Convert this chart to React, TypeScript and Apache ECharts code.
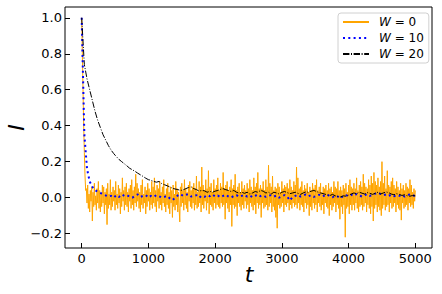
import React, { useEffect, useRef } from "react";
import * as echarts from "echarts";

const xTicks = [0, 1000, 2000, 3000, 4000, 5000];
const yTicks = [-0.2, 0, 0.2, 0.4, 0.6, 0.8, 1.0];
const seriesNames = ["0", "10", "20"];
const xName = "t";
const yName = "I";

const stepW0 = 10;
const w0 = [
  1.0, 0.8, 0.6, 0.4, 0.25, 0.12, 0.04,
  0.05, -0.03, 0.07, -0.06, 0.02, -0.08, 0.04, -0.02, 0.06, -0.13, 0.03, -0.05, 0.08, -0.04, 0.01, -0.07, 0.05, -0.03, 0.09, -0.06,
  0.04, -0.08, 0.02, -0.05, 0.07, -0.03, 0.06, -0.09, 0.03, -0.04, 0.05, -0.15, 0.08, -0.06, 0.02, -0.04, 0.1, -0.07, 0.03, -0.05,
  0.06, -0.02, 0.04, -0.07, 0.09, -0.04, 0.02, -0.06, 0.07, -0.03, 0.05, -0.09, 0.03, -0.05, 0.11, -0.02, 0.04, -0.07, 0.06, -0.04,
  0.08, -0.05, 0.03, -0.08, 0.05, -0.02, 0.07, -0.06, 0.1, -0.04, 0.04, -0.07, 0.06, -0.03, 0.13, -0.05, 0.08, -0.02, 0.05, -0.06,
  0.03, -0.08, 0.07, -0.04, 0.1, -0.06, 0.02, -0.03, 0.06, -0.09, 0.04, -0.05, 0.08, -0.02, 0.05, -0.07, 0.03, -0.04, 0.09, -0.06,
  0.06, -0.03, 0.11, -0.05, 0.04, -0.08, 0.07, -0.02, 0.05, -0.06, 0.09, -0.04, 0.03, -0.07, 0.06, -0.03, 0.1, -0.05, 0.02, -0.08,
  0.05, -0.04, 0.08, -0.06, 0.03, -0.09, 0.06, -0.03, 0.04, -0.11, 0.07, -0.05, 0.02, -0.07, 0.09, -0.04, 0.05, -0.08, 0.03, -0.06,
  -0.135, 0.06, -0.05, 0.08, -0.03, 0.04, -0.07, 0.1, -0.04, 0.05, -0.06, 0.03, -0.08, 0.07, -0.02, 0.09, -0.05, 0.04, -0.06, 0.06,
  -0.03, 0.08, -0.07, 0.05, -0.04, 0.12, -0.06, 0.03, -0.05, 0.09, -0.03, 0.06, -0.08, 0.17, -0.04, 0.07, -0.06, 0.04, -0.02, 0.1,
  -0.07, 0.05, -0.03, 0.15, -0.09, 0.06, -0.04, 0.08, -0.05, 0.03, -0.07, 0.1, -0.03, 0.05, -0.06, 0.07, -0.04, 0.11, -0.05, 0.04,
  -0.06, 0.08, -0.03, 0.06, -0.05, 0.14, -0.04, 0.05, -0.12, 0.07, -0.03, 0.09, -0.06, 0.04, -0.08, 0.06, -0.04, 0.1, -0.16, 0.05,
  -0.04, 0.07, -0.06, 0.13, -0.05, 0.04, -0.1, 0.06, -0.03, 0.08, -0.05, 0.03, -0.07, 0.09, -0.04, 0.05, -0.06, 0.07, -0.02, 0.04,
  -0.06, 0.08, -0.04, 0.05, -0.08, 0.1, -0.03, 0.06, -0.05, 0.04, -0.07, 0.11, -0.04, 0.06, -0.09, 0.08, -0.03, 0.14, -0.06, 0.05,
  -0.04, 0.07, -0.11, 0.05, -0.03, 0.09, -0.06, 0.04, -0.05, 0.1, -0.04, 0.06, -0.07, 0.18, -0.05, 0.08, -0.03, 0.06, -0.08, 0.12,
  -0.05, 0.04, -0.07, 0.06, -0.11, 0.05, -0.17, 0.08, -0.04, 0.06, -0.06, 0.03, -0.05, 0.09, -0.03, 0.05, -0.08, 0.07, -0.04, 0.06,
  -0.05, 0.08, -0.03, 0.05, -0.07, 0.1, -0.04, 0.06, -0.06, 0.04, -0.03, 0.09, -0.05, 0.07, -0.04, 0.17, -0.06, 0.11, -0.03, 0.05,
  -0.07, 0.06, -0.04, 0.09, -0.05, 0.04, -0.08, 0.07, -0.03, 0.05, -0.06, 0.08, -0.04, 0.03, -0.1, 0.06, -0.05, 0.04, -0.07, 0.08,
  -0.03, 0.05, -0.06, 0.07, -0.04, 0.1, -0.08, 0.04, -0.03, 0.06, -0.05, 0.08, -0.07, 0.03, -0.04, 0.06, -0.09, 0.05, -0.03, 0.07,
  -0.05, 0.04, -0.06, 0.08, -0.1, 0.05, -0.04, 0.06, -0.07, 0.03, -0.05, 0.09, -0.03, 0.06, -0.08, 0.05, -0.04, 0.09, -0.06, 0.04,
  -0.12, 0.06, -0.05, 0.04, -0.09, 0.07, -0.04, 0.05, -0.22, 0.08, -0.06, 0.03, -0.05, 0.07, -0.09, 0.1, -0.04, 0.06, -0.07, 0.05,
  -0.04, 0.08, -0.07, 0.05, -0.03, 0.11, -0.06, 0.04, -0.08, 0.07, -0.05, 0.09, -0.04, 0.06, -0.07, 0.13, -0.05, 0.08, -0.03, 0.06,
  -0.08, 0.05, -0.04, 0.1, -0.06, 0.07, -0.09, 0.12, -0.05, 0.08, -0.13, 0.14, -0.06, 0.09, -0.04, 0.07, -0.08, 0.11, -0.05, 0.06,
  -0.07, 0.09, -0.1, 0.2, -0.06, 0.08, -0.04, 0.12, -0.07, 0.05, -0.05, 0.15, -0.04, 0.07, -0.08, 0.06, -0.03, 0.09, -0.06, 0.11,
  -0.05, 0.07, -0.03, 0.05, -0.08, 0.09, -0.04, 0.06, -0.06, 0.04, -0.07, 0.08, -0.125, 0.05, -0.03, 0.07, -0.06, 0.04, -0.05, 0.08,
  -0.04, 0.06, -0.07, 0.05, -0.03, 0.1, -0.05, 0.07, -0.04, 0.03, -0.06, 0.05, -0.02, 0.04,
];

const stepW10 = 40;
const w10 = [
  1.0, 0.35, 0.16, 0.09, 0.06, 0.042, 0.032, 0.026, 0.02, 0.012,
  0.006, 0.01, 0.0, 0.014, 0.004, 0.018, 0.01, 0.014, 0.004, 0.0,
  0.01, 0.018, 0.004, 0.01, 0.014, 0.0, 0.01, 0.004, 0.014, 0.008,
  0.0, 0.004, 0.01, -0.004, -0.014, -0.002, 0.012, 0.02, 0.01, 0.016,
  0.02, 0.006, 0.01, 0.014, 0.0, 0.01, 0.004, 0.014, 0.008, 0.018,
  0.006, 0.012, 0.002, 0.01, 0.016, 0.006, 0.0, 0.01, 0.014, 0.004,
  0.01, 0.016, 0.006, 0.012, 0.002, 0.01, 0.018, 0.008, 0.012, 0.004,
  0.01, 0.014, 0.006, 0.012, 0.0, 0.008, 0.014, 0.006, -0.016, 0.004,
  0.01, 0.016, 0.006, 0.012, 0.018, 0.008, 0.014, 0.004, 0.01, 0.016,
  0.006, 0.012, 0.018, 0.008, 0.002, 0.012, 0.006, -0.004, 0.01, 0.014,
  0.008, 0.016, 0.01, 0.02, 0.012, 0.006, 0.014, 0.02, 0.01, 0.016,
  0.022, 0.028, 0.02, 0.014, 0.018, 0.01, 0.016, 0.008, 0.014, 0.01,
  0.016, 0.006, 0.012, 0.02, 0.014, 0.008,
];

const stepW20 = 40;
const w20 = [
  1.0, 0.74, 0.66, 0.6, 0.54, 0.48, 0.43, 0.39, 0.35, 0.32,
  0.29, 0.265, 0.245, 0.228, 0.212, 0.2, 0.188, 0.176, 0.163, 0.155,
  0.146, 0.136, 0.127, 0.118, 0.108, 0.1, 0.096, 0.09, 0.086, 0.09,
  0.078, 0.072, 0.066, 0.06, 0.052, 0.048, 0.045, 0.04, 0.043, 0.05,
  0.056, 0.06, 0.05, 0.045, 0.036, 0.04, 0.038, 0.03, 0.035, 0.03,
  0.036, 0.04, 0.046, 0.05, 0.044, 0.04, 0.034, 0.04, 0.03, 0.025,
  0.03, 0.024, 0.03, 0.02, 0.026, 0.034, 0.03, 0.04, 0.036, 0.026,
  0.03, 0.02, 0.03, 0.026, 0.02, 0.03, 0.034, 0.028, 0.022, 0.026,
  0.03, 0.024, 0.018, 0.026, 0.032, 0.03, 0.036, 0.04, 0.034, 0.028,
  0.024, 0.02, 0.015, 0.012, 0.018, 0.01, 0.006, 0.004, 0.01, 0.008,
  0.014, 0.02, 0.026, 0.022, 0.03, 0.025, 0.02, 0.028, 0.024, 0.018,
  0.025, 0.03, 0.02, 0.026, 0.032, 0.028, 0.02, 0.016, 0.022, 0.018,
  0.012, 0.016, 0.01, 0.008, 0.012, 0.01,
];

const FONT = "DejaVu Sans";

const pairs = (vals: number[], step: number) => vals.map((v, i) => [i * step, v]);

const fmtY = (v: number) => {
  const s = Math.abs(v).toFixed(1);
  return v < -1e-9 ? "\u2212" + s : s;
};

export default function App() {
  const ref = useRef<HTMLDivElement>(null);
  useEffect(() => {
    if (!ref.current) return;
    const chart = echarts.init(ref.current, undefined, { renderer: "svg" });
    chart.setOption({
      animation: false,
      backgroundColor: "#fff",
      textStyle: { fontFamily: FONT },
      grid: {
        left: 65,
        top: 7,
        right: 10,
        bottom: 46,
        containLabel: false,
        outerBoundsMode: "none",
        show: true,
        borderColor: "#000",
        borderWidth: 1,
        backgroundColor: "transparent",
      },
      graphic: [
        {
          type: "text",
          x: 249,
          y: 274,
          style: {
            text: xName,
            fontFamily: FONT,
            fontStyle: "italic",
            fontSize: 22,
            fill: "#000",
            align: "center",
            verticalAlign: "middle",
          },
        },
      ],
      legend: {
        orient: "vertical",
        left: 338,
        top: 13,
        padding: [3, 5, 3, 4],
        itemWidth: 26,
        itemHeight: 14,
        itemGap: 4,
        itemStyle: { opacity: 0 },
        backgroundColor: "rgba(255,255,255,0.85)",
        borderColor: "#d0d0d0",
        borderWidth: 1,
        borderRadius: 3,
        formatter: (name: string) => `{s|}{i|W} = ${name}`,
        textStyle: {
          fontFamily: FONT,
          fontSize: 12,
          color: "#000",
          rich: {
            s: { width: 5 },
            i: { fontStyle: "italic", fontFamily: FONT, fontSize: 12, color: "#000" },
          },
        },
        data: seriesNames,
      },
      xAxis: {
        type: "value",
        min: -250,
        max: 5250,
        axisLine: { show: false, onZero: false },
        splitLine: { show: false },
        axisTick: {
          show: true,
          inside: true,
          length: 5,
          customValues: xTicks,
          lineStyle: { color: "#000", width: 1 },
        },
        axisLabel: {
          customValues: xTicks,
          margin: 4,
          fontFamily: FONT,
          fontSize: 13,
          color: "#000",
          formatter: (v: number) => String(v),
        },
      },
      yAxis: {
        type: "value",
        min: -0.28,
        max: 1.06,
        name: yName,
        nameLocation: "middle",
        nameRotate: 90,
        nameGap: 38,
        nameMoveOverlap: false,
        nameTextStyle: { fontFamily: FONT, fontStyle: "italic", fontSize: 22, color: "#000" },
        axisLine: { show: false, onZero: false },
        splitLine: { show: false },
        axisTick: {
          show: true,
          inside: true,
          length: 5,
          customValues: yTicks,
          lineStyle: { color: "#000", width: 1 },
        },
        axisLabel: {
          customValues: yTicks,
          margin: 3,
          fontFamily: FONT,
          fontSize: 13,
          color: "#000",
          formatter: fmtY,
        },
      },
      series: [
        {
          name: seriesNames[0],
          type: "line",
          data: pairs(w0, stepW0),
          showSymbol: false,
          symbol: "none",
          lineStyle: { color: "#FFA500", width: 1 },
          itemStyle: { color: "#FFA500" },
          z: 1,
        },
        {
          name: seriesNames[1],
          type: "line",
          data: pairs(w10, stepW10),
          showSymbol: false,
          symbol: "none",
          lineStyle: { color: "#0000FF", width: 2, type: [2, 3.3], cap: "butt" },
          itemStyle: { color: "#0000FF" },
          z: 2,
        },
        {
          name: seriesNames[2],
          type: "line",
          data: pairs(w20, stepW20),
          showSymbol: false,
          symbol: "none",
          lineStyle: { color: "#000", width: 1, type: [6.4, 1.6, 1, 1.6] },
          itemStyle: { color: "#000" },
          z: 3,
        },
      ],
    });
    return () => chart.dispose();
  }, []);
  return <div ref={ref} style={{ width: 442, height: 294, position: "absolute", left: 0, top: 0 }} />;
}
